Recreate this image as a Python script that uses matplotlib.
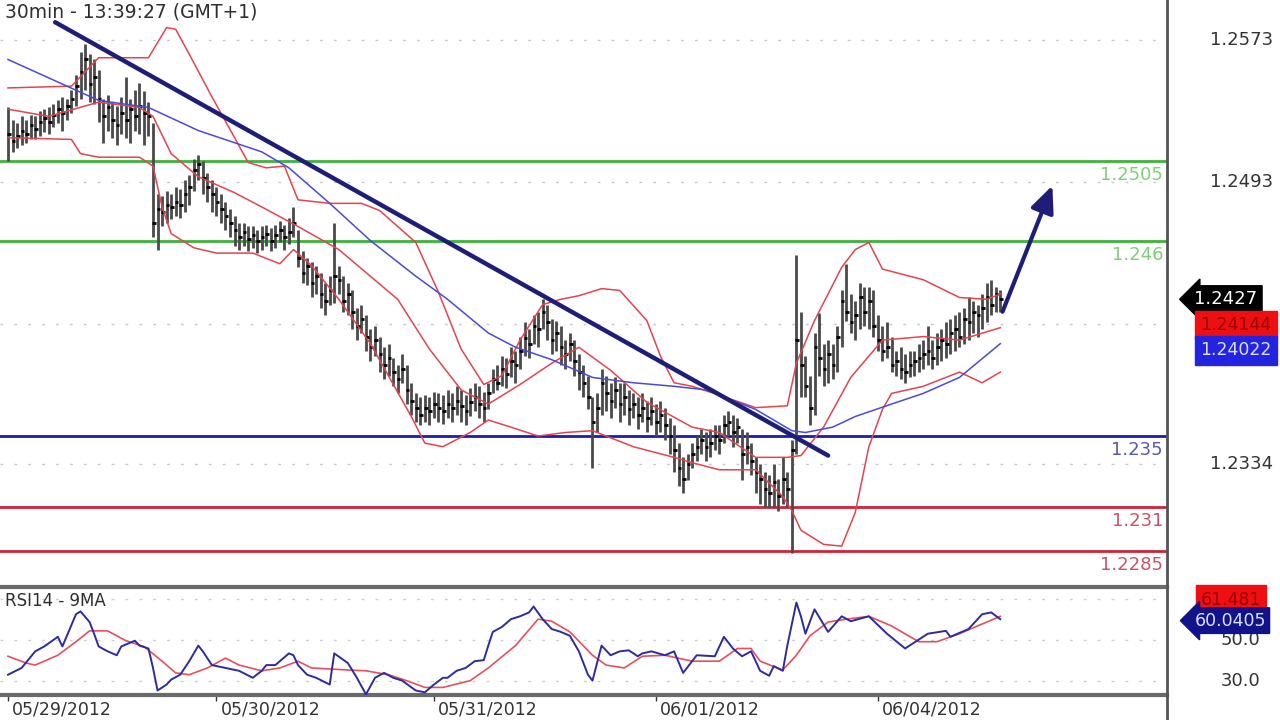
import numpy as np
import matplotlib.pyplot as plt
from matplotlib.lines import Line2D
import matplotlib.transforms as mtransforms

# 30min bars, 05/29/2012 00:00 -> 06/04/2012 13:00
highs = [1.2535, 1.2528, 1.2526, 1.2530, 1.2528, 1.2531, 1.2530, 1.2533,
         1.2534, 1.2535, 1.2537, 1.2539, 1.2541, 1.2540, 1.2545, 1.2553,
         1.2566, 1.2571, 1.2565, 1.2562, 1.2556, 1.2540, 1.2542, 1.2538,
         1.2536, 1.2541, 1.2552, 1.2540, 1.2545, 1.2549, 1.2544, 1.2538,
         1.2526, 1.2486, 1.2485, 1.2488, 1.2486, 1.2490, 1.2489, 1.2494,
         1.2497, 1.2506, 1.2508, 1.2505, 1.2498, 1.2494, 1.2490, 1.2486,
         1.2482, 1.2478, 1.2474, 1.2470, 1.2470, 1.2468, 1.2468, 1.2466,
         1.2468, 1.2469, 1.2467, 1.2469, 1.2471, 1.2469, 1.2473, 1.2479,
         1.2466, 1.2454, 1.2450, 1.2448, 1.2446, 1.2442, 1.2436, 1.2440,
         1.2470, 1.2446, 1.2440, 1.2436, 1.2432, 1.2422, 1.2424, 1.2418,
         1.2410, 1.2412, 1.2406, 1.2400, 1.2402, 1.2394, 1.2390, 1.2396,
         1.2390, 1.2380, 1.2374, 1.2372, 1.2373, 1.2372, 1.2375, 1.2374,
         1.2373, 1.2376, 1.2374, 1.2378, 1.2376, 1.2373, 1.2377, 1.2380,
         1.2378, 1.2375, 1.2380, 1.2388, 1.2390, 1.2395, 1.2394, 1.2400,
         1.2398, 1.2406, 1.2414, 1.2410, 1.2418, 1.2420, 1.2427, 1.2424,
         1.2416, 1.2415, 1.2412, 1.2404, 1.2408, 1.2404, 1.2396, 1.2390,
         1.2384, 1.2372, 1.2374, 1.2388, 1.2384, 1.2380, 1.2383, 1.2380,
         1.2380, 1.2376, 1.2374, 1.2372, 1.2374, 1.2370, 1.2372, 1.2368,
         1.2370, 1.2366, 1.2360, 1.2356, 1.2346, 1.2338, 1.2340, 1.2346,
         1.2350, 1.2354, 1.2352, 1.2354, 1.2356, 1.2356, 1.2362, 1.2364,
         1.2362, 1.2360, 1.2354, 1.2352, 1.2346, 1.2338, 1.2334, 1.2330,
         1.2328, 1.2334, 1.2326, 1.2338, 1.2330, 1.2348, 1.2452, 1.2420,
         1.2395, 1.2384, 1.2408, 1.2419, 1.2402, 1.2404, 1.2402, 1.2412,
         1.2432, 1.2447, 1.2430, 1.2426, 1.2436, 1.2434, 1.2434, 1.2432,
         1.2418, 1.2412, 1.2414, 1.2406, 1.2398, 1.2400, 1.2396, 1.2398,
         1.2398, 1.2402, 1.2404, 1.2412, 1.2404, 1.2408, 1.2410, 1.2414,
         1.2416, 1.2418, 1.2420, 1.2422, 1.2428, 1.2426, 1.2424, 1.2430,
         1.2436, 1.2438, 1.2434, 1.2432]
lows = [1.2505, 1.2510, 1.2512, 1.2514, 1.2515, 1.2517, 1.2517, 1.2519,
        1.2521, 1.2520, 1.2524, 1.2526, 1.2522, 1.2528, 1.2532, 1.2536,
        1.2540, 1.2545, 1.2538, 1.2537, 1.2527, 1.2515, 1.2522, 1.2518,
        1.2514, 1.2520, 1.2518, 1.2515, 1.2522, 1.2520, 1.2514, 1.2519,
        1.2462, 1.2455, 1.2468, 1.2470, 1.2472, 1.2474, 1.2473, 1.2476,
        1.2480, 1.2488, 1.2494, 1.2486, 1.2482, 1.2476, 1.2474, 1.2470,
        1.2466, 1.2462, 1.2457, 1.2455, 1.2457, 1.2454, 1.2456, 1.2453,
        1.2455, 1.2457, 1.2454, 1.2456, 1.2459, 1.2455, 1.2458, 1.2462,
        1.2445, 1.2436, 1.2435, 1.2428, 1.2430, 1.2422, 1.2418, 1.2424,
        1.2425, 1.2430, 1.2420, 1.2418, 1.2410, 1.2404, 1.2408, 1.2398,
        1.2392, 1.2395, 1.2386, 1.2382, 1.2384, 1.2378, 1.2374, 1.2380,
        1.2368, 1.2362, 1.2358, 1.2356, 1.2358, 1.2356, 1.2360, 1.2358,
        1.2357, 1.2360, 1.2358, 1.2362, 1.2358, 1.2356, 1.2361, 1.2364,
        1.2360, 1.2358, 1.2365, 1.2374, 1.2376, 1.2378, 1.2377, 1.2383,
        1.2380, 1.2388, 1.2395, 1.2394, 1.2402, 1.2400, 1.2410, 1.2404,
        1.2396, 1.2398, 1.2390, 1.2388, 1.2392, 1.2384, 1.2376, 1.2372,
        1.2365, 1.2332, 1.2352, 1.2362, 1.2364, 1.2360, 1.2366, 1.2358,
        1.2362, 1.2356, 1.2360, 1.2354, 1.2358, 1.2352, 1.2356, 1.2350,
        1.2352, 1.2348, 1.2340, 1.2330, 1.2322, 1.2318, 1.2325, 1.2332,
        1.2336, 1.2340, 1.2336, 1.2338, 1.2342, 1.2340, 1.2346, 1.2350,
        1.2344, 1.2346, 1.2325, 1.2334, 1.2328, 1.2318, 1.2312, 1.2310,
        1.2310, 1.2310, 1.2308, 1.2312, 1.2310, 1.2284, 1.2340, 1.2372,
        1.2372, 1.2356, 1.2362, 1.2384, 1.2378, 1.2380, 1.2382, 1.2386,
        1.2400, 1.2415, 1.2408, 1.2404, 1.2410, 1.2412, 1.2410, 1.2406,
        1.2398, 1.2392, 1.2394, 1.2386, 1.2384, 1.2382, 1.2380, 1.2383,
        1.2384, 1.2386, 1.2388, 1.2390, 1.2388, 1.2390, 1.2392, 1.2394,
        1.2396, 1.2398, 1.2400, 1.2402, 1.2404, 1.2408, 1.2406, 1.2410,
        1.2414, 1.2418, 1.2420, 1.2420]
closes = [1.2520, 1.2516, 1.2519, 1.2522, 1.2520, 1.2525, 1.2523, 1.2527,
          1.2529, 1.2527, 1.2531, 1.2534, 1.2532, 1.2536, 1.2540, 1.2547,
          1.2555, 1.2562, 1.2548, 1.2552, 1.2540, 1.2530, 1.2535, 1.2528,
          1.2525, 1.2532, 1.2528, 1.2534, 1.2530, 1.2536, 1.2532, 1.2530,
          1.2470, 1.2478, 1.2476, 1.2480, 1.2479, 1.2482, 1.2480, 1.2486,
          1.2490, 1.2500, 1.2503, 1.2495, 1.2490, 1.2486, 1.2482, 1.2478,
          1.2474, 1.2470, 1.2466, 1.2462, 1.2465, 1.2461, 1.2463, 1.2460,
          1.2462, 1.2464, 1.2460, 1.2463, 1.2466, 1.2462, 1.2465, 1.2470,
          1.2450, 1.2442, 1.2446, 1.2436, 1.2440, 1.2430, 1.2426, 1.2432,
          1.2440, 1.2438, 1.2426, 1.2430, 1.2420, 1.2412, 1.2416, 1.2406,
          1.2400, 1.2404, 1.2396, 1.2390, 1.2394, 1.2386, 1.2382, 1.2388,
          1.2376, 1.2370, 1.2366, 1.2362, 1.2366, 1.2364, 1.2368, 1.2366,
          1.2364, 1.2368, 1.2366, 1.2370, 1.2367, 1.2364, 1.2369, 1.2372,
          1.2368, 1.2366, 1.2374, 1.2382, 1.2380, 1.2388, 1.2385, 1.2392,
          1.2390, 1.2398, 1.2405, 1.2402, 1.2412, 1.2410, 1.2420, 1.2414,
          1.2404, 1.2408, 1.2400, 1.2396, 1.2402, 1.2392, 1.2386, 1.2380,
          1.2372, 1.2358, 1.2366, 1.2380, 1.2374, 1.2370, 1.2376, 1.2368,
          1.2372, 1.2365, 1.2368, 1.2362, 1.2366, 1.2360, 1.2364, 1.2358,
          1.2362, 1.2356, 1.2350, 1.2342, 1.2332, 1.2326, 1.2334, 1.2340,
          1.2344, 1.2348, 1.2344, 1.2346, 1.2350, 1.2348, 1.2356, 1.2358,
          1.2352, 1.2355, 1.2340, 1.2344, 1.2336, 1.2330, 1.2326, 1.2320,
          1.2318, 1.2324, 1.2316, 1.2326, 1.2320, 1.2342, 1.2404, 1.2390,
          1.2378, 1.2366, 1.2400, 1.2394, 1.2388, 1.2396, 1.2390, 1.2406,
          1.2426, 1.2420, 1.2414, 1.2418, 1.2428, 1.2420, 1.2426, 1.2412,
          1.2404, 1.2398, 1.2400, 1.2390, 1.2392, 1.2388, 1.2386, 1.2390,
          1.2392, 1.2394, 1.2396, 1.2398, 1.2394, 1.2400, 1.2404, 1.2402,
          1.2408, 1.2410, 1.2406, 1.2416, 1.2414, 1.2420, 1.2418, 1.2422,
          1.2428, 1.2424, 1.2430, 1.2427]
bars = np.arange(len(closes))

# bollinger bands and moving average, read at sample bars
bb_up_x = [0, 14, 20, 31, 35, 37, 40, 45, 50, 53, 57, 61, 64, 71, 78, 82, 90, 95, 100, 105,
           109, 113, 118, 122, 126, 131, 135, 141, 144, 147, 151, 157, 165, 172, 174, 178,
           184, 187, 190, 193, 202, 210, 216, 219]
bb_up = [1.2546, 1.2547, 1.2563, 1.2563, 1.2580, 1.2579, 1.2565, 1.2541, 1.2518, 1.2504,
         1.2501, 1.2502, 1.2483, 1.2481, 1.2481, 1.2477, 1.2459, 1.2431, 1.2399, 1.2379,
         1.2384, 1.2404, 1.2424, 1.2427, 1.2429, 1.2433, 1.2432, 1.2415, 1.2395, 1.2380,
         1.2378, 1.2373, 1.2366, 1.2367, 1.2391, 1.2415, 1.2445, 1.2455, 1.2459, 1.2444,
         1.2438, 1.2428, 1.2427, 1.2430]
bb_mid_x = [0, 9, 20, 29, 32, 36, 42, 50, 56, 64, 73, 86, 93, 100, 106, 113, 120, 126, 133,
            141, 151, 157, 165, 172, 175, 180, 186, 193, 202, 210, 219]
bb_mid = [1.2534, 1.2530, 1.2538, 1.2535, 1.2530, 1.2509, 1.2496, 1.2487, 1.2479, 1.2468,
          1.2455, 1.2427, 1.2399, 1.2376, 1.2368, 1.2379, 1.2391, 1.2400, 1.2387, 1.2369,
          1.2355, 1.2352, 1.2338, 1.2338, 1.2339, 1.2355, 1.2383, 1.2404, 1.2406, 1.2404,
          1.2411]
bb_low_x = [0, 14, 16, 20, 29, 32, 34, 36, 41, 46, 54, 60, 63, 67, 73, 80, 89, 92, 96, 102,
            106, 111, 117, 123, 129, 138, 147, 151, 157, 165, 171, 173, 175, 180, 184, 187,
            190, 193, 195, 202, 210, 215, 219]
bb_low = [1.2518, 1.2517, 1.2509, 1.2507, 1.2507, 1.2502, 1.2479, 1.2464, 1.2456, 1.2453,
          1.2453, 1.2447, 1.2455, 1.2446, 1.2427, 1.2402, 1.2361, 1.2346, 1.2344, 1.2352,
          1.2359, 1.2355, 1.2350, 1.2352, 1.2353, 1.2344, 1.2338, 1.2335, 1.2331, 1.2331,
          1.2316, 1.2308, 1.2297, 1.2289, 1.2288, 1.2307, 1.2344, 1.2365, 1.2374, 1.2378,
          1.2386, 1.2380, 1.2386]
ma_x = [0, 13, 20, 31, 42, 56, 62, 71, 80, 90, 97, 106, 112, 120, 129, 138, 147, 154, 158,
        165, 173, 176, 182, 187, 195, 202, 210, 219]
ma_v = [1.2562, 1.2547, 1.2539, 1.2535, 1.2522, 1.2510, 1.2501, 1.2481, 1.2460, 1.2440,
        1.2427, 1.2408, 1.2400, 1.2393, 1.2383, 1.2380, 1.2378, 1.2376, 1.2372, 1.2365,
        1.2353, 1.2352, 1.2355, 1.2361, 1.2368, 1.2374, 1.2383, 1.2402]

# RSI14 and its 9MA
rsi_x = [0, 3, 6, 8, 11, 12, 15, 16, 18, 19, 20, 22, 24, 25, 28, 29, 31, 32, 33, 35,
         36, 38, 40, 42, 43, 45, 48, 51, 54, 56, 57, 59, 62, 63, 64, 66, 68, 71, 72, 75,
         77, 79, 81, 83, 85, 87, 90, 92, 94, 96, 97, 99, 101, 103, 105, 106, 107, 109, 111, 113,
         115, 116, 118, 120, 122, 124, 126, 128, 129, 131, 133, 135, 137, 139, 140, 142, 145, 147, 149, 152,
         156, 158, 160, 162, 164, 166, 168, 169, 171, 172, 174, 175, 176, 178, 181, 184, 186, 190, 194, 198,
         203, 207, 208, 212, 215, 217, 219]
rsi_v = [32.9, 36.2, 44.3, 46.7, 51.4, 46.7, 62.4, 63.8, 58.6, 52.9,
         46.7, 44.3, 42.4, 46.7, 49.5, 47.1, 45.7, 36.2, 25.2, 28.1,
         30.5, 32.9, 39.5, 47.1, 44.3, 37.6, 36.2, 34.8, 31.4, 34.8,
         37.6, 37.6, 43.3, 42.4, 37.6, 32.9, 31.4, 28.1, 43.3, 38.6,
         31.4, 23.3, 31.4, 33.8, 31.4, 30.0, 25.2, 24.3, 28.1, 31.4,
         31.4, 34.8, 36.2, 39.5, 40.0, 47.1, 53.8, 56.2, 60.0, 61.4,
         63.3, 66.2, 60.0, 55.2, 53.8, 51.9, 44.3, 32.9, 30.0, 47.1,
         42.4, 44.3, 44.8, 41.9, 43.3, 44.3, 42.4, 44.3, 33.8, 42.4,
         41.9, 51.4, 45.7, 41.9, 44.3, 34.8, 32.4, 37.1, 34.8, 47.1,
         68.1, 61.4, 52.9, 64.8, 53.8, 61.4, 59.0, 61.4, 52.9, 45.7,
         52.9, 54.3, 51.4, 55.2, 62.4, 63.3, 60.0]
rsi_ma_x = [0, 4, 6, 11, 15, 18, 22, 26, 30, 34, 37, 40, 44, 48, 51, 56, 60, 64, 67, 75,
            79, 84, 88, 92, 96, 102, 106, 112, 117, 120, 124, 129, 132, 136, 140, 145, 151, 157, 161, 164,
            166, 171, 174, 177, 181, 185, 190, 195, 201, 205, 210, 214, 219]
rsi_ma_v = [41.9, 38.6, 37.6, 42.4, 49.0, 54.3, 54.3, 49.5, 46.7, 39.5,
            33.8, 32.9, 36.2, 41.0, 37.6, 34.8, 36.2, 39.5, 36.2, 35.2,
            34.8, 32.9, 30.0, 26.7, 26.7, 30.0, 36.2, 47.1, 60.0, 59.0,
            53.8, 42.4, 37.6, 36.2, 41.9, 42.4, 39.5, 39.5, 45.7, 45.7,
            39.5, 35.2, 42.4, 51.9, 58.6, 60.0, 61.4, 56.7, 49.0, 49.0,
            52.9, 56.7, 61.4]

# support / resistance
levels = [1.2505, 1.246, 1.235, 1.231, 1.2285]
level_txt = ['1.2505', '1.246', '1.235', '1.231', '1.2285']
level_col = ['#3db33a', '#3db33a', '#1c1cb0', '#d02238', '#d02238']
level_txt_col = ['#7fcf7a', '#7fcf7a', '#5656b4', '#c45566', '#c45566']

trend_x = [10.4, 181.0]
trend_y = [1.2583, 1.2339]
arrow_from = (219.5, 1.2420)
arrow_to = (230.5, 1.2491)

price_ticks = [1.2334, 1.2413, 1.2493, 1.2573]
price_tick_lbl = ['1.2334', '', '1.2493', '1.2573']
date_pos = [0, 46, 94, 143, 192]
date_lbl = ['05/29/2012', '05/30/2012', '05/31/2012', '06/01/2012', '06/04/2012']

W, H = 1280, 720
fig = plt.figure(figsize=(12.8, 7.2), dpi=100)
fig.patch.set_facecolor('white')
ax = fig.add_axes([0, 1 - 587 / H, 1167 / W, 587 / H])
axr = fig.add_axes([0, 1 - 695 / H, 1167 / W, 108 / H])

for a in (ax, axr):
    a.set_xlim(-1.77, 255.8)
    for s in a.spines.values():
        s.set_visible(False)
ax.set_ylim(1.2265, 1.25955)
axr.set_ylim(23.0, 75.7)

# grids
ax.set_yticks(price_ticks)
ax.set_xticks([])
ax.tick_params(left=False, labelleft=False)
ax.grid(axis='y', color='#c9c9c9', lw=1, ls=(0, (2, 8)))
axr.set_yticks([30, 50, 70])
axr.tick_params(axis='y', left=False, labelleft=False)
axr.grid(axis='y', color='#cfcfcf', lw=1, ls=(0, (2, 8)))

# price bars
ax.vlines(bars, lows, highs, color='#4a4a4a', lw=2.0, zorder=3)
ax.hlines(closes, bars - 0.2, bars + 0.6, color='black', lw=2.0, zorder=3)

ax.plot(bb_up_x, bb_up, color='#e2454d', lw=1.1, zorder=4)
ax.plot(bb_mid_x, bb_mid, color='#e2454d', lw=1.1, zorder=4)
ax.plot(bb_low_x, bb_low, color='#e2454d', lw=1.1, zorder=4)
ax.plot(ma_x, ma_v, color='#4a4ad8', lw=1.1, zorder=4)

for lv, c in zip(levels, level_col):
    ax.axhline(lv, color=c, lw=2, zorder=2)
for lv, t, c in zip(levels, level_txt, level_txt_col):
    ax.annotate(t, xy=(1, lv), xycoords=('axes fraction', 'data'), xytext=(-4, -14),
                textcoords='offset pixels', ha='right', va='center', fontsize=13, color=c)

ax.plot(trend_x, trend_y, color='#1e1e78', lw=3.2, solid_capstyle='round', zorder=5)
ax.annotate('', xy=arrow_to, xytext=arrow_from,
            arrowprops=dict(arrowstyle='-|>,head_length=0.9,head_width=0.4', color='#1e1e78',
                            lw=3, mutation_scale=18, shrinkA=0, shrinkB=0), zorder=5)

ax.text(5 / 1167, 1 - 12 / 587, '30min - 13:39:27 (GMT+1)', transform=ax.transAxes,
        ha='left', va='center', fontsize=13.5, color='#2e2e2e')

# right price scale
yt = ax.get_yaxis_transform()
for p, t in zip(price_ticks, price_tick_lbl):
    if t:
        ax.text(1273 / 1167, p, t, transform=yt, ha='right', va='center', fontsize=13,
                color='#333333', clip_on=False)
ax.text(1226 / 1167, 1.2427, '1.2427', transform=yt, ha='center', va='center', fontsize=13,
        color='white', clip_on=False, bbox=dict(boxstyle='larrow,pad=0.25', fc='black', ec='black'))
ax.text(1236 / 1167, 1.24125, '1.24144', transform=yt, ha='center', va='center', fontsize=12.5,
        color='#9a0000', clip_on=False, bbox=dict(boxstyle='square,pad=0.3', fc='#ee1010', ec='#ee1010'))
ax.text(1236 / 1167, 1.23982, '1.24022', transform=yt, ha='center', va='center', fontsize=12.5,
        color='#dde0ff', clip_on=False, bbox=dict(boxstyle='square,pad=0.3', fc='#2323e0', ec='#2323e0'))

# RSI panel
axr.plot(rsi_x, rsi_v, color='#2c2c9e', lw=1.4, zorder=4)
axr.plot(rsi_ma_x, rsi_ma_v, color='#e5505e', lw=1.2, zorder=3)
axr.text(5 / 1167, (695 - 601) / 108, 'RSI14 - 9MA', transform=axr.transAxes, ha='left',
         va='center', fontsize=12, color='#2e2e2e')
ryt = axr.get_yaxis_transform()
for v in [50, 30]:
    axr.text(1260 / 1167, v, '%.1f' % v, transform=ryt, ha='right', va='center', fontsize=13,
             color='#333333', clip_on=False)
axr.text(1231 / 1167, 69.6, '61.481', transform=ryt, ha='center', va='center', fontsize=12.5,
         color='#9a0000', clip_on=False, bbox=dict(boxstyle='square,pad=0.3', fc='#ee1010', ec='#ee1010'))
axr.text(1230 / 1167, 59.3, '60.0405', transform=ryt, ha='center', va='center', fontsize=12.5,
         color='#dde0ff', clip_on=False, bbox=dict(boxstyle='larrow,pad=0.22', fc='#12128a', ec='#12128a'))

for side in ('top', 'bottom'):
    axr.spines[side].set_visible(True)
    axr.spines[side].set_color('#6a6a6a')
    axr.spines[side].set_linewidth(3)

axr.set_xticks(date_pos)
axr.set_xticklabels(date_lbl, ha='left')
axr.tick_params(axis='x', length=4, width=1, color='#333333', pad=0, labelsize=12.5,
                labelcolor='#333333', direction='out')
shift = mtransforms.ScaledTranslation(4 / 100, 0, fig.dpi_scale_trans)
for lab in axr.get_xticklabels():
    lab.set_transform(lab.get_transform() + shift)

# divider between chart and price scale
fig.add_artist(Line2D([1167 / W, 1167 / W], [0, 1], color='#555555', lw=2,
                      transform=fig.transFigure))

fig.savefig('out.png', dpi=100)
